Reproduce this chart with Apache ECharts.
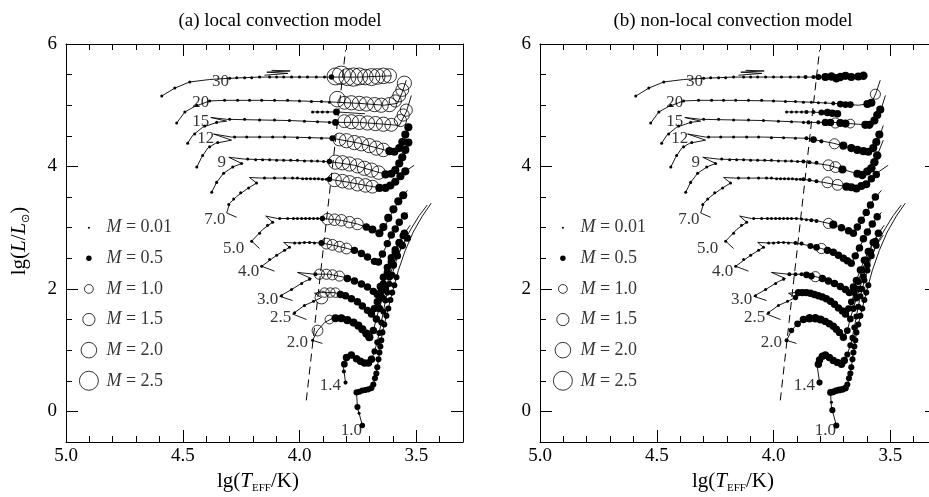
<!DOCTYPE html>
<html><head><meta charset="utf-8">
<script src="https://cdn.jsdelivr.net/npm/echarts@6/dist/echarts.min.js"></script>
<style>html,body{margin:0;padding:0;background:#fff}#c{width:929px;height:497px}</style>
</head><body><div id="c"></div>
<script>
// ---------- axis ticks ----------
const xMajorTicks = [3.5, 4.0, 4.5, 5.0];
const xMinorTicks = [3.4, 3.6, 3.7, 3.8, 3.9, 4.1, 4.2, 4.3, 4.4, 4.6, 4.7, 4.8, 4.9];
const yMajorTicks = [0, 2, 4, 6];
const yMinorTicks = [-0.5, 0.5, 1, 1.5, 2.5, 3, 3.5, 4.5, 5, 5.5];

// ---------- track lines [lgT, lgL] ----------
const track30 = [[4.590,5.15],[4.534,5.28],[4.470,5.38],[4.385,5.42],[4.299,5.44],[4.171,5.46],[4.0,5.46],[3.872,5.46],[3.744,5.46],[3.607,5.48]];
const loop30 = [[4.15,5.49],[4.05,5.52],[4.14,5.54],[4.04,5.56],[4.12,5.57]];
const track20 = [[4.526,4.71],[4.491,4.89],[4.449,4.98],[4.385,5.07],[4.321,5.08],[4.171,5.08],[4.0,5.07],[3.846,5.05],[3.744,5.03],[3.637,5.0],[3.581,5.03],[3.560,5.21],[3.543,5.41]];
const track15 = [[4.479,4.38],[4.457,4.51],[4.415,4.64],[4.355,4.72],[4.312,4.74],[4.380,4.80],[4.312,4.77],[4.043,4.75],[3.850,4.72],[3.744,4.72],[3.637,4.69],[3.573,4.67],[3.543,4.89],[3.521,5.16]];
const loop15 = [[3.944,4.89],[3.838,4.89],[3.72,4.86]];
const track12 = [[4.440,3.99],[4.419,4.15],[4.393,4.30],[4.359,4.38],[4.291,4.43],[4.368,4.53],[4.291,4.48],[4.043,4.48],[3.859,4.46],[3.744,4.38],[3.637,4.27],[3.581,4.23],[3.551,4.43],[3.530,4.67]];
const track9 = [[4.376,3.58],[4.355,3.74],[4.325,3.89],[4.286,3.99],[4.248,4.05],[4.303,4.15],[4.235,4.12],[4.043,4.10],[3.872,4.08],[3.765,4.02],[3.658,3.90],[3.615,3.86],[3.581,3.97],[3.556,4.18],[3.530,4.43]];
const track7 = [[4.269,3.17],[4.312,3.24],[4.299,3.40],[4.269,3.51],[4.226,3.63],[4.184,3.73],[4.214,3.82],[4.162,3.81],[4.043,3.81],[3.872,3.79],[3.786,3.74],[3.701,3.68],[3.637,3.64],[3.594,3.74],[3.551,3.91],[3.509,4.02]];
const track5 = [[4.171,2.66],[4.205,2.78],[4.158,2.97],[4.115,3.09],[4.145,3.19],[4.094,3.15],[4.0,3.15],[3.902,3.15],[3.821,3.12],[3.752,3.06],[3.701,2.99],[3.658,2.91],[3.632,3.04],[3.603,3.25],[3.573,3.45],[3.538,3.61]];
const track4 = [[4.107,2.29],[4.162,2.37],[4.098,2.55],[4.043,2.68],[4.068,2.76],[4.021,2.75],[3.957,2.76],[3.906,2.75],[3.850,2.71],[3.795,2.66],[3.744,2.60],[3.701,2.50],[3.667,2.42],[3.637,2.63],[3.607,2.88],[3.573,3.09],[3.538,3.25]];
const track3 = [[4.030,1.81],[4.085,1.88],[4.034,1.99],[3.979,2.12],[3.949,2.17],[4.009,2.27],[3.936,2.24],[3.872,2.24],[3.808,2.19],[3.752,2.11],[3.701,2.01],[3.667,1.91],[3.645,2.14],[3.615,2.44],[3.585,2.68],[3.556,2.88],[3.526,3.04]];
const track25 = [[3.970,1.50],[4.030,1.59],[3.979,1.73],[3.932,1.81],[3.906,1.86],[3.936,1.93],[3.906,1.94],[3.850,1.94],[3.799,1.88],[3.756,1.80],[3.718,1.68],[3.692,1.59],[3.671,1.73],[3.650,1.98],[3.624,2.27],[3.598,2.53],[3.573,2.75],[3.547,2.93]];
const track2 = [[3.902,1.11],[3.944,1.16],[3.923,1.32],[3.893,1.45],[3.859,1.52],[3.821,1.52],[3.778,1.47],[3.744,1.39],[3.718,1.29],[3.701,1.21],[3.684,1.32],[3.667,1.57],[3.645,1.85],[3.620,2.14],[3.594,2.44],[3.564,2.68],[3.530,2.88]];
const track14 = [[3.803,0.47],[3.812,0.72],[3.799,0.88],[3.778,0.92],[3.744,0.83],[3.709,0.77],[3.688,0.88],[3.667,1.13],[3.650,1.45],[3.632,1.81],[3.611,2.14],[3.585,2.47],[3.556,2.75],[3.521,2.99],[3.487,3.20],[3.453,3.37]];
const track10 = [[3.731,-0.23],[3.752,0.07],[3.756,0.31],[3.726,0.34],[3.688,0.38],[3.671,0.62],[3.658,0.96],[3.645,1.29],[3.624,1.62],[3.603,1.94],[3.577,2.30],[3.547,2.63],[3.513,2.93],[3.474,3.19],[3.436,3.40]];
const boundary = [[3.971,0.18],[3.803,5.90]];

// ---------- markers [lgT, lgL, M] shared by both panels (hot part) ----------
const dots30 = [[4.590,5.15,0.15],[4.534,5.28,0.15],[4.470,5.38,0.15],[4.299,5.44,0.15],[4.269,5.45,0.15],[4.235,5.45,0.15],[4.205,5.45,0.15],[4.171,5.46,0.15],[4.128,5.46,0.15],[4.098,5.46,0.15],[4.068,5.46,0.15],[4.034,5.46,0.15],[4.0,5.46,0.15],[3.966,5.46,0.15],[3.928,5.46,0.15],[3.893,5.46,0.15]];
const dots20 = [[4.526,4.71,0.15],[4.491,4.89,0.15],[4.440,5.00,0.15],[4.385,5.07,0.15],[4.321,5.08,0.15],[4.265,5.08,0.15],[4.214,5.08,0.15],[4.162,5.08,0.15],[4.107,5.08,0.15],[4.051,5.08,0.15],[4.0,5.07,0.15],[3.949,5.06,0.15],[3.906,5.06,0.15],[3.872,5.05,0.15]];
const dots15 = [[4.479,4.38,0.15],[4.449,4.53,0.15],[4.406,4.66,0.15],[4.355,4.72,0.15],[4.299,4.77,0.15],[4.235,4.77,0.15],[4.171,4.76,0.15],[4.107,4.76,0.15],[4.043,4.75,0.15],[3.979,4.74,0.15],[3.923,4.73,0.15],[3.872,4.72,0.15]];
const dots12 = [[4.440,3.99,0.15],[4.415,4.18,0.15],[4.385,4.32,0.15],[4.350,4.39,0.15],[4.278,4.48,0.15],[4.226,4.48,0.15],[4.171,4.48,0.15],[4.115,4.48,0.15],[4.064,4.48,0.15],[4.009,4.47,0.15],[3.957,4.47,0.15],[3.906,4.46,0.15]];
const dots9 = [[4.376,3.58,0.15],[4.355,3.74,0.15],[4.325,3.89,0.15],[4.286,3.99,0.15],[4.248,4.05,0.15],[4.222,4.12,0.15],[4.188,4.11,0.15],[4.158,4.11,0.15],[4.128,4.11,0.15],[4.098,4.10,0.15],[4.068,4.10,0.15],[4.038,4.10,0.15],[4.009,4.10,0.15],[3.979,4.09,0.15],[3.949,4.09,0.15],[3.923,4.09,0.15],[3.897,4.08,0.15]];
const dots7 = [[4.303,3.38,0.15],[4.282,3.47,0.15],[4.252,3.57,0.15],[4.218,3.65,0.15],[4.184,3.73,0.15],[4.150,3.81,0.15],[4.107,3.81,0.15],[4.064,3.81,0.15],[4.030,3.81,0.15],[4.009,3.81,0.15],[3.987,3.80,0.15],[3.970,3.80,0.15],[3.953,3.80,0.15],[3.936,3.80,0.15],[3.919,3.80,0.15],[3.902,3.79,0.15],[3.885,3.79,0.15]];
const dots5 = [[4.205,2.78,0.15],[4.171,2.91,0.15],[4.137,3.04,0.15],[4.115,3.09,0.15],[4.085,3.15,0.15],[4.051,3.15,0.15],[4.026,3.15,0.15],[4.009,3.15,0.15],[3.991,3.15,0.15],[3.974,3.15,0.15],[3.957,3.15,0.15],[3.940,3.15,0.15],[3.923,3.15,0.15]];
const dots4 = [[4.162,2.37,0.15],[4.128,2.48,0.15],[4.098,2.55,0.15],[4.064,2.63,0.15],[4.043,2.68,0.15],[4.021,2.75,0.15],[4.0,2.75,0.15],[3.979,2.76,0.15],[3.957,2.76,0.15],[3.936,2.75,0.15]];
const dots3 = [[4.077,1.89,0.15],[4.034,1.99,0.15],[3.991,2.09,0.15],[3.957,2.16,0.15]];
const dots25 = [[4.021,1.61,0.15],[3.979,1.73,0.15],[3.940,1.80,0.15]];

// ---------- panel (a) local convection: cool-part markers ----------
const cool30A = [[3.863,5.46,0.5],[3.846,5.47,2.2],[3.821,5.49,2.4],[3.795,5.46,2.2],[3.769,5.46,2.4],[3.744,5.47,2.2],[3.718,5.46,2.0],[3.692,5.46,2.2],[3.667,5.47,2.0],[3.641,5.48,2.0],[3.615,5.48,1.8]];
const cool20A = [[3.838,5.10,2.0],[3.808,5.04,1.6],[3.778,5.04,1.8],[3.744,5.03,1.8],[3.714,5.02,1.8],[3.679,5.01,1.8],[3.650,5.00,1.8],[3.615,5.01,1.8],[3.590,5.07,1.5],[3.573,5.16,1.6],[3.560,5.25,1.6],[3.551,5.36,1.8]];
const cool15A = [[3.846,4.72,0.7],[3.808,4.74,1.6],[3.778,4.73,1.8],[3.744,4.72,1.8],[3.709,4.71,1.8],[3.675,4.70,1.8],[3.641,4.69,1.8],[3.607,4.68,1.6],[3.568,4.75,1.5],[3.556,4.84,1.5],[3.543,4.92,1.5]];
const loop15A = [[3.944,4.89,0.15],[3.923,4.89,0.15],[3.902,4.89,0.15],[3.880,4.89,0.15],[3.842,4.89,0.7]];
const cool12A = [[3.859,4.46,0.6],[3.829,4.44,1.6],[3.799,4.42,1.8],[3.765,4.39,1.8],[3.735,4.37,1.8],[3.701,4.34,1.8],[3.671,4.30,1.8],[3.641,4.27,1.7],[3.615,4.25,0.9],[3.594,4.24,0.9],[3.573,4.30,0.9],[3.560,4.40,0.9],[3.547,4.52,0.9],[3.534,4.64,0.9]];
const cool9A = [[3.872,4.08,0.5],[3.846,4.07,1.8],[3.816,4.06,1.8],[3.786,4.04,1.8],[3.752,4.01,1.8],[3.722,3.97,1.8],[3.692,3.94,1.8],[3.662,3.90,1.7],[3.632,3.87,0.9],[3.607,3.88,0.9],[3.590,3.94,0.9],[3.573,4.05,0.9],[3.560,4.15,0.9],[3.547,4.27,0.9],[3.534,4.39,0.9]];
const cool7A = [[3.872,3.79,0.5],[3.850,3.78,1.7],[3.816,3.76,1.7],[3.786,3.74,1.7],[3.752,3.71,1.7],[3.718,3.69,1.7],[3.688,3.67,1.6],[3.658,3.65,0.9],[3.632,3.65,0.9],[3.611,3.69,0.9],[3.590,3.75,0.9],[3.568,3.84,0.9],[3.547,3.92,0.9]];
const cool5A = [[3.902,3.15,0.5],[3.880,3.14,1.4],[3.850,3.13,1.4],[3.821,3.12,1.4],[3.786,3.09,1.4],[3.752,3.06,1.4],[3.714,3.01,0.8],[3.688,2.97,0.9],[3.658,2.91,0.9],[3.641,3.01,0.9],[3.620,3.16,0.9],[3.598,3.30,0.9],[3.577,3.43,0.9],[3.556,3.53,0.9]];
const cool4A = [[3.906,2.75,0.6],[3.885,2.74,1.3],[3.859,2.72,1.3],[3.829,2.69,1.3],[3.799,2.66,1.3],[3.765,2.63,0.8],[3.735,2.58,0.8],[3.709,2.52,0.8],[3.679,2.45,0.8],[3.662,2.44,0.8],[3.645,2.57,0.8],[3.624,2.74,0.8],[3.607,2.88,0.8],[3.590,2.98,0.8],[3.573,3.09,0.8],[3.551,3.19,0.8]];
const cool3A = [[3.932,2.24,0.3],[3.915,2.24,1.2],[3.885,2.24,1.2],[3.859,2.23,1.2],[3.829,2.21,1.2],[3.795,2.17,0.8],[3.765,2.13,0.8],[3.735,2.08,0.8],[3.709,2.03,0.8],[3.684,1.96,0.8],[3.667,1.91,0.8],[3.654,2.04,0.8],[3.641,2.19,0.8],[3.624,2.35,0.8],[3.607,2.51,0.8],[3.590,2.64,0.8],[3.573,2.76,0.8],[3.551,2.91,0.8]];
const cool25A = [[3.906,1.86,1.6],[3.893,1.94,1.1],[3.868,1.94,1.1],[3.846,1.94,1.1],[3.825,1.91,0.8],[3.803,1.89,0.8],[3.778,1.84,0.8],[3.752,1.79,0.8],[3.731,1.72,0.8],[3.709,1.65,0.8],[3.692,1.59,0.8],[3.679,1.68,0.8],[3.667,1.79,0.8],[3.654,1.94,0.8],[3.641,2.08,0.8],[3.624,2.27,0.8],[3.607,2.44,0.8],[3.590,2.60,0.8],[3.573,2.75,0.8],[3.556,2.87,0.8]];
const cool2A = [[3.944,1.16,0.15],[3.923,1.32,1.3],[3.872,1.50,1.0],[3.846,1.52,0.9],[3.821,1.52,0.9],[3.795,1.49,0.9],[3.769,1.45,0.9],[3.748,1.40,0.9],[3.731,1.34,0.9],[3.714,1.27,0.9],[3.701,1.21,0.9],[3.684,1.32,0.8],[3.671,1.51,0.8],[3.658,1.68,0.8],[3.645,1.85,0.8],[3.632,2.00,0.8],[3.615,2.20,0.8],[3.598,2.39,0.8],[3.581,2.54,0.8],[3.560,2.71,0.8],[3.538,2.83,0.8]];
const cool14A = [[3.803,0.47,0.3],[3.810,0.65,0.3],[3.808,0.77,0.7],[3.799,0.88,0.8],[3.778,0.92,0.8],[3.756,0.86,0.8],[3.739,0.82,0.8],[3.722,0.79,0.8],[3.705,0.79,0.8],[3.692,0.85,0.8],[3.679,0.98,0.6],[3.667,1.13,0.6],[3.658,1.28,0.6],[3.650,1.45,0.6],[3.641,1.63,0.6],[3.632,1.81,0.6],[3.624,1.94,0.6],[3.615,2.08,0.6],[3.603,2.23,0.6]];
const cool10A = [[3.731,-0.23,0.5],[3.745,-0.03,0.15],[3.752,0.07,0.6],[3.756,0.31,0.6],[3.744,0.32,0.6],[3.731,0.34,0.6],[3.718,0.35,0.6],[3.705,0.36,0.6],[3.692,0.38,0.6],[3.684,0.44,0.6],[3.677,0.54,0.6],[3.671,0.62,0.6],[3.667,0.72,0.6],[3.662,0.85,0.6],[3.658,0.96,0.6],[3.654,1.06,0.6],[3.650,1.16,0.6],[3.645,1.29,0.6],[3.637,1.42,0.6],[3.628,1.56,0.6],[3.620,1.68,0.6],[3.611,1.82,0.6],[3.603,1.94,0.6],[3.594,2.06,0.6],[3.585,2.19,0.6]];

// ---------- panel (b) non-local convection: cool-part markers ----------
const cool30B = [[3.863,5.46,0.3],[3.829,5.46,0.3],[3.808,5.46,0.6],[3.778,5.46,0.9],[3.752,5.47,0.95],[3.731,5.44,0.95],[3.714,5.46,0.95],[3.692,5.48,0.9],[3.667,5.46,0.9],[3.637,5.47,0.9],[3.615,5.48,0.95]];
const cool20B = [[3.838,5.05,0.15],[3.808,5.04,0.15],[3.778,5.04,0.15],[3.744,5.03,0.3],[3.714,5.02,0.7],[3.692,5.01,0.7],[3.671,5.01,0.7],[3.598,5.02,0.9],[3.581,5.04,0.9],[3.564,5.18,1.2]];
const cool15B = [[3.850,4.72,0.3],[3.808,4.72,0.3],[3.778,4.72,0.8],[3.756,4.72,0.8],[3.735,4.71,1.2],[3.714,4.71,0.9],[3.692,4.70,0.9],[3.671,4.70,1.0],[3.607,4.68,0.9],[3.590,4.68,0.9],[3.568,4.75,0.9],[3.556,4.84,0.9],[3.543,4.93,0.9]];
const loop15B = [[3.944,4.89,0.15],[3.923,4.89,0.15],[3.902,4.89,0.15],[3.880,4.89,0.15],[3.859,4.89,0.3],[3.829,4.89,0.3],[3.795,4.88,0.6],[3.769,4.88,0.8],[3.748,4.87,0.8],[3.726,4.86,0.8]];
const cool12B = [[3.859,4.46,0.3],[3.829,4.44,0.7],[3.795,4.41,0.3],[3.739,4.37,1.2],[3.701,4.34,0.9],[3.667,4.30,0.9],[3.641,4.27,0.9],[3.615,4.25,0.9],[3.594,4.24,0.9],[3.573,4.30,0.9],[3.560,4.40,0.9],[3.547,4.52,0.9]];
const cool9B = [[3.872,4.08,0.3],[3.846,4.07,0.3],[3.816,4.06,0.3],[3.765,4.02,1.3],[3.735,3.99,1.3],[3.705,3.95,0.9],[3.641,3.88,0.9],[3.620,3.86,0.95],[3.598,3.92,0.95],[3.581,3.97,0.95],[3.568,4.07,0.95],[3.556,4.18,0.95]];
const cool7B = [[3.872,3.79,0.3],[3.846,3.78,0.3],[3.816,3.76,0.3],[3.769,3.74,1.3],[3.726,3.70,1.3],[3.688,3.67,0.9],[3.667,3.66,0.9],[3.645,3.64,0.9],[3.624,3.68,0.9],[3.603,3.71,0.9],[3.581,3.80,0.8],[3.560,3.87,0.8]];
const cool5B = [[3.902,3.15,0.15],[3.880,3.14,0.15],[3.859,3.13,0.15],[3.838,3.12,0.3],[3.816,3.11,0.3],[3.765,3.07,1.2],[3.744,3.05,0.9],[3.709,3.00,0.8],[3.679,2.95,0.8],[3.658,2.91,0.8],[3.641,3.01,0.8],[3.624,3.12,0.8],[3.603,3.25,0.8],[3.585,3.37,0.8],[3.564,3.50,0.8]];
const cool4B = [[3.906,2.75,0.3],[3.880,2.74,0.3],[3.842,2.70,0.6],[3.816,2.68,0.7],[3.795,2.66,1.2],[3.769,2.63,0.8],[3.744,2.60,0.8],[3.722,2.55,0.8],[3.701,2.50,0.8],[3.684,2.46,0.8],[3.667,2.42,0.8],[3.650,2.54,0.8],[3.632,2.67,0.8],[3.615,2.82,0.8],[3.598,2.93,0.8],[3.577,3.06,0.8],[3.556,3.18,0.8]];
const cool3B = [[3.932,2.24,0.3],[3.906,2.24,0.3],[3.880,2.24,0.3],[3.859,2.23,0.7],[3.838,2.21,0.7],[3.821,2.20,1.2],[3.791,2.17,0.8],[3.765,2.13,0.8],[3.739,2.09,0.8],[3.714,2.04,0.8],[3.692,1.99,0.8],[3.675,1.94,0.8],[3.658,2.03,0.8],[3.645,2.14,0.8],[3.628,2.31,0.8],[3.611,2.47,0.8],[3.594,2.61,0.8],[3.573,2.76,0.8],[3.551,2.91,0.8]];
const cool25B = [[3.906,1.86,0.5],[3.893,1.94,0.8],[3.876,1.94,0.8],[3.859,1.94,0.8],[3.842,1.93,0.8],[3.825,1.91,0.8],[3.808,1.89,0.8],[3.791,1.87,0.8],[3.774,1.84,0.8],[3.756,1.80,0.8],[3.739,1.75,0.8],[3.722,1.69,0.8],[3.705,1.64,0.8],[3.692,1.59,0.8],[3.679,1.68,0.7],[3.667,1.79,0.7],[3.654,1.94,0.7],[3.637,2.12,0.7],[3.620,2.31,0.7],[3.603,2.47,0.7],[3.585,2.61,0.7],[3.564,2.78,0.7]];
const cool2B = [[3.944,1.16,0.3],[3.923,1.32,0.5],[3.897,1.43,0.7],[3.872,1.50,0.8],[3.846,1.52,0.95],[3.821,1.52,0.95],[3.799,1.50,0.9],[3.778,1.47,0.8],[3.761,1.43,0.8],[3.744,1.39,0.8],[3.731,1.34,0.8],[3.718,1.29,0.8],[3.701,1.21,0.8],[3.684,1.32,0.7],[3.671,1.51,0.7],[3.658,1.68,0.7],[3.645,1.85,0.7],[3.632,2.00,0.7],[3.615,2.20,0.7],[3.598,2.39,0.7],[3.581,2.54,0.7],[3.560,2.71,0.7]];
const cool14B = [[3.803,0.47,0.6],[3.808,0.77,0.8],[3.803,0.84,0.8],[3.791,0.90,0.8],[3.778,0.92,0.8],[3.761,0.88,0.8],[3.744,0.83,0.8],[3.726,0.80,0.8],[3.709,0.77,0.8],[3.697,0.83,0.8],[3.684,0.93,0.6],[3.671,1.08,0.6],[3.662,1.20,0.6],[3.654,1.37,0.6],[3.645,1.55,0.6],[3.637,1.71,0.6],[3.628,1.88,0.6],[3.620,2.00,0.6],[3.611,2.14,0.6],[3.598,2.30,0.6]];
const cool10B = [[3.731,-0.23,0.6],[3.748,0.02,0.6],[3.752,0.15,0.15],[3.756,0.31,0.7],[3.744,0.32,0.7],[3.731,0.34,0.7],[3.718,0.35,0.7],[3.705,0.36,0.7],[3.692,0.38,0.7],[3.684,0.44,0.6],[3.677,0.54,0.6],[3.671,0.62,0.6],[3.667,0.72,0.6],[3.662,0.85,0.6],[3.658,0.96,0.6],[3.654,1.06,0.6],[3.650,1.16,0.6],[3.645,1.29,0.6],[3.637,1.42,0.6],[3.628,1.56,0.6],[3.620,1.68,0.6],[3.611,1.82,0.6],[3.603,1.94,0.6],[3.594,2.06,0.6]];

// ---------- track mass labels ----------
const trackNames = ['30','20','15','12','9','7.0','5.0','4.0','3.0','2.5','2.0','1.4','1.0'];
const trackLabelPos = [[4.338,5.38],[4.423,5.05],[4.423,4.74],[4.402,4.46],[4.333,4.07],[4.363,3.14],[4.282,2.66],[4.218,2.29],[4.137,1.83],[4.081,1.54],[4.009,1.13],[3.868,0.42],[3.778,-0.31]];

// ---------- legend ----------
const legendM = [0.01, 0.5, 1.0, 1.5, 2.0, 2.5];
const legendText = ['0.01', '0.5', '1.0', '1.5', '2.0', '2.5'];
const legendY = [3.0, 2.5, 2.0, 1.5, 1.0, 0.5];
const legendX = 4.902;

const titles = ['(a) local convection model', '(b) non-local convection model'];

// ---------- build chart ----------
const FONT = 'Liberation Serif';
const trackLines = [track30, loop30, track20, track15, loop15, track12, track9, track7, track5, track4, track3, track25, track2, track14, track10];
const sharedDots = [dots30, dots20, dots15, dots12, dots9, dots7, dots5, dots4, dots3, dots25];
const panelMarkers = [
  [cool30A, cool20A, cool15A, loop15A, cool12A, cool9A, cool7A, cool5A, cool4A, cool3A, cool25A, cool2A, cool14A, cool10A],
  [cool30B, cool20B, cool15B, loop15B, cool12B, cool9B, cool7B, cool5B, cool4B, cool3B, cool25B, cool2B, cool14B, cool10B]
];
const gridLefts = [66, 540];

function xAx(g, pos, vals, len, line, label) {
  return { type: 'value', gridIndex: g, position: pos, min: 3.3, max: 5.0, inverse: true,
    axisLine: { show: line, onZero: false, lineStyle: { color: '#000', width: 1 } },
    axisTick: { show: true, inside: true, length: len, customValues: vals, lineStyle: { color: '#000', width: 1 } },
    axisLabel: { show: label, customValues: vals, formatter: v => v.toFixed(1), color: '#000', fontFamily: FONT, fontSize: 19, margin: 5 },
    splitLine: { show: false }, minorTick: { show: false } };
}
function yAx(g, pos, vals, len, line, label) {
  return { type: 'value', gridIndex: g, position: pos, min: -0.5, max: 6,
    axisLine: { show: line, onZero: false, lineStyle: { color: '#000', width: 1 } },
    axisTick: { show: true, inside: true, length: len, customValues: vals, lineStyle: { color: '#000', width: 1 } },
    axisLabel: { show: label, customValues: vals, formatter: v => String(v), color: '#000', fontFamily: FONT, fontSize: 19, margin: 9 },
    splitLine: { show: false }, minorTick: { show: false } };
}

const grids = [], xAxes = [], yAxes = [], series = [];
const sizeOf = v => 2 + 6.8 * v[2];
for (let p = 0; p < 2; p++) {
  grids.push({ left: gridLefts[p], top: 44, width: 397, height: 398, containLabel: false, outerBoundsMode: 'none' });
  xAxes.push(xAx(p, 'bottom', xMajorTicks, 12, true, true), xAx(p, 'bottom', xMinorTicks, 6, false, false),
             xAx(p, 'top', xMajorTicks, 12, true, false), xAx(p, 'top', xMinorTicks, 6, false, false));
  yAxes.push(yAx(p, 'left', yMajorTicks, 12, true, true), yAx(p, 'left', yMinorTicks, 6, false, false),
             yAx(p, 'right', yMajorTicks, 12, true, false), yAx(p, 'right', yMinorTicks, 6, false, false));
  const xi = p * 4, yi = p * 4;
  trackLines.forEach(t => series.push({ type: 'line', xAxisIndex: xi, yAxisIndex: yi, data: t, showSymbol: false, symbol: 'none',
    lineStyle: { color: '#000', width: 0.9, opacity: 1 }, silent: true, z: 2 }));
  series.push({ type: 'line', xAxisIndex: xi, yAxisIndex: yi, data: boundary, symbol: 'none',
    lineStyle: { color: '#000', width: 1, type: [8, 5], opacity: 1 }, silent: true, z: 2 });
  const legendPts = legendM.map((m, i) => [legendX, legendY[i], m]);
  const all = sharedDots.flat().concat(panelMarkers[p].flat()).concat(legendPts);
  series.push({ type: 'scatter', xAxisIndex: xi, yAxisIndex: yi, data: all.filter(d => d[2] >= 1), symbol: 'circle', symbolSize: sizeOf,
    itemStyle: { color: 'rgba(255,255,255,0)', borderColor: '#000', borderWidth: 0.8, opacity: 1 }, silent: true, z: 3 });
  series.push({ type: 'scatter', xAxisIndex: xi, yAxisIndex: yi, data: all.filter(d => d[2] < 1), symbol: 'circle', symbolSize: sizeOf,
    itemStyle: { color: '#000', opacity: 1 }, silent: true, z: 4 });
  series.push({ type: 'scatter', xAxisIndex: xi, yAxisIndex: yi, symbolSize: 1, itemStyle: { color: 'rgba(0,0,0,0)' }, silent: true, z: 5,
    data: legendText.map((s, i) => ({ value: [legendX, legendY[i]], name: s })),
    label: { show: true, position: 'right', distance: 17, formatter: '{i|M} = {b}', color: '#000', fontFamily: FONT, fontSize: 18,
      rich: { i: { fontStyle: 'italic', fontFamily: FONT, fontSize: 18, color: '#000' } } } });
  series.push({ type: 'scatter', xAxisIndex: xi, yAxisIndex: yi, symbolSize: 1, itemStyle: { color: 'rgba(0,0,0,0)' }, silent: true, z: 5,
    data: trackNames.map((s, i) => ({ value: trackLabelPos[i], name: s })),
    label: { show: true, position: 'inside', formatter: '{b}', color: '#000', fontFamily: FONT, fontSize: 17 } });
}

const rich = {
  n: { fontFamily: FONT, fontSize: 21, color: '#000', lineHeight: 26 },
  i: { fontFamily: FONT, fontSize: 21, fontStyle: 'italic', color: '#000', lineHeight: 26 },
  s: { fontFamily: FONT, fontSize: 11, color: '#000', verticalAlign: 'bottom', lineHeight: 12 }
};
const graphics = [];
[280, 733].forEach((cx, p) => graphics.push({ type: 'text', x: cx, y: 21, silent: true,
  style: { text: titles[p], fill: '#000', font: '19px "Liberation Serif"', align: 'center', verticalAlign: 'middle' } }));
[258, 733].forEach(cx => graphics.push({ type: 'text', x: cx, y: 481, silent: true,
  style: { text: '{n|lg(}{i|T}{s|EFF}{n|/K)}', rich: rich, align: 'center', verticalAlign: 'middle' } }));
graphics.push({ type: 'text', x: 19, y: 241, rotation: Math.PI / 2, silent: true,
  style: { text: '{n|lg(}{i|L}{n|/}{i|L}{s|⊙}{n|)}', rich: rich, align: 'center', verticalAlign: 'middle' } });

const chart = echarts.init(document.getElementById('c'), null, { renderer: 'canvas' });
chart.setOption({ animation: false, backgroundColor: '#fff', grid: grids, xAxis: xAxes, yAxis: yAxes, series: series, graphic: graphics });
</script></body></html>
